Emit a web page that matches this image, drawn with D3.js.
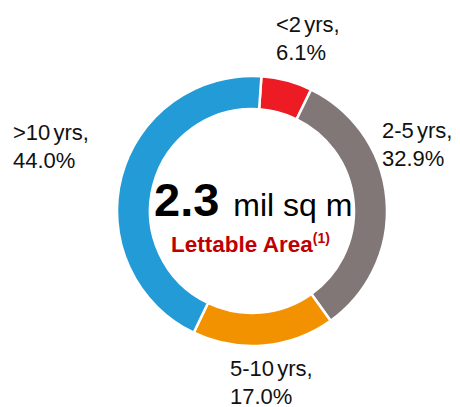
<!DOCTYPE html>
<html>
<head>
<meta charset="utf-8">
<script src="https://cdn.jsdelivr.net/npm/d3@7"></script>
<style>
  body { margin: 0; background: #fff; }
  text { font-family: "Liberation Sans", Arial, sans-serif; }
</style>
</head>
<body>
<svg id="donut"></svg>
<script>
// lease expiry profile, share of lettable area
const categories = ["<2 yrs", "2-5 yrs", "5-10 yrs", ">10 yrs"];
const shares = [6.1, 32.9, 17.0, 44.0];
const colors = ["#ED1C24", "#807776", "#F39200", "#229BD6"];

const width = 460, height = 407;
const cx = 252, cy = 211;
const outerR = 135, innerR = 102;

// where each label block starts (left edge, first baseline)
const labelPos = {
    "<2 yrs": [276, 32],
    "2-5 yrs": [382, 138],
    "5-10 yrs": [230, 376],
    ">10 yrs": [13, 140]
};

const data = categories.map((c, i) => ({cat: c, value: shares[i], color: colors[i]}));

const svg = d3.select("#donut")
    .attr("width", width)
    .attr("height", height);

const pie = d3.pie()
    .value(d => d.value)
    .sort(null)
    .startAngle(4 * Math.PI / 180)
    .endAngle(2 * Math.PI + 4 * Math.PI / 180);

const arc = d3.arc()
    .innerRadius(innerR)
    .outerRadius(outerR);

const g = svg.append("g")
    .attr("transform", `translate(${cx},${cy})`);

g.selectAll("path")
    .data(pie(data))
    .enter()
    .append("path")
    .attr("d", arc)
    .attr("fill", d => d.data.color)
    .attr("stroke", "#fff")
    .attr("stroke-width", 2.5);

// slice labels
data.forEach(d => {
    const p = labelPos[d.cat];
    const t = svg.append("text")
        .attr("x", p[0])
        .attr("y", p[1])
        .attr("font-size", 22)
        .attr("word-spacing", -3)
        .attr("fill", "#111");
    t.append("tspan").attr("x", p[0]).text(d.cat + ",");
    t.append("tspan").attr("x", p[0]).attr("dy", 28).text(d.value.toFixed(1) + "%");
});

// centre text
const big = svg.append("text")
    .attr("x", 154)
    .attr("y", 216);
big.append("tspan")
    .attr("font-size", 47)
    .attr("font-weight", "bold")
    .attr("fill", "#000")
    .text("2.3");
big.append("tspan")
    .attr("font-size", 32)
    .attr("fill", "#000")
    .attr("dx", 14)
    .text("mil sq m");

const sub = svg.append("text")
    .attr("x", 171)
    .attr("y", 252)
    .attr("font-size", 22.5)
    .attr("font-weight", "bold")
    .attr("fill", "#C00000");
sub.append("tspan").text("Lettable Area");
sub.append("tspan")
    .attr("font-size", 14)
    .attr("dy", -9)
    .text("(1)");
</script>
</body>
</html>
